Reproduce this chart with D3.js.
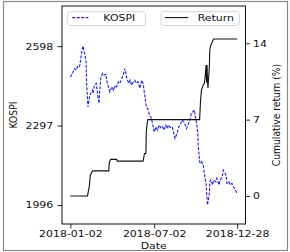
<!DOCTYPE html>
<html>
<head>
<meta charset="utf-8">
<script src="https://cdn.jsdelivr.net/npm/d3@7"></script>
<style>
  html, body { margin: 0; padding: 0; background: #fff; }
  svg { display: block; }
  text { font-family: "DejaVu Sans", sans-serif; fill: #111; }
</style>
</head>
<body>
<div id="chart"></div>
<script>
// KOSPI closing index, 2018
const kospiDates = ["01-02","01-08","01-11","01-15","01-18","01-22","01-24","01-26","01-29","02-02",
  "02-05","02-06","02-08","02-09","02-13","02-19","02-20","02-23","02-27","03-02",
  "03-05","03-06","03-09","03-13","03-16","03-20","03-22","03-26","03-28","04-02",
  "04-05","04-09","04-12","04-16","04-19","04-23","04-26","04-30","05-02","05-04",
  "05-08","05-11","05-14","05-18","05-21","05-25","05-28","06-01","06-05","06-08",
  "06-12","06-15","06-19","06-22","06-26","07-02","07-06","07-09","07-13","07-17",
  "07-20","07-23","07-27","07-30","08-02","08-06","08-10","08-13","08-16","08-20",
  "08-24","08-28","08-31","09-04","09-07","09-10","09-14","09-18","09-20","09-27",
  "09-28","10-01","10-04","10-05","10-08","10-10","10-12","10-16","10-18","10-22",
  "10-25","10-29","10-30","11-01","11-05","11-07","11-12","11-14","11-19","11-21",
  "11-26","11-28","12-04","12-06","12-10","12-13","12-17","12-20","12-24","12-28"];
const kospi = [2480,2501,2513,2507,2523,2520,2545,2570,2598,2570,
  2539,2463,2400,2368,2412,2431,2419,2450,2457,2412,
  2381,2419,2482,2495,2488,2491,2463,2438,2425,2444,
  2431,2450,2444,2463,2457,2476,2488,2513,2495,2476,
  2457,2469,2450,2463,2469,2457,2463,2438,2469,2457,
  2406,2368,2356,2337,2324,2273,2292,2280,2299,2286,
  2292,2280,2299,2286,2299,2289,2292,2267,2248,2267,
  2292,2305,2318,2311,2299,2286,2305,2324,2343,2356,
  2337,2311,2273,2223,2160,2154,2160,2147,2116,2072,
  1996,2040,2084,2091,2072,2091,2084,2097,2072,2091,
  2103,2128,2110,2078,2084,2072,2078,2065,2053,2038];

// cumulative return of the strategy, %
const retDates = ["01-02","02-08","02-12","02-14","02-19","03-26","03-27","03-30","04-12","04-13",
  "06-08","06-11","06-14","06-15","06-18","10-08","10-10","10-12","10-16","10-18",
  "10-19","10-22","10-23","10-24","10-25","10-26","10-29","10-30","11-01","11-05",
  "11-07","12-28"];
const ret = [0,0,0.9,1.9,2.3,2.3,3.05,3.36,3.36,3.2,
  3.2,3.9,3.9,6.0,7.0,7.0,8.8,9.7,10.2,10.3,
  10.5,12.0,10.4,12.0,10.5,9.9,11.9,13.4,13.8,14.2,
  14.4,14.4];

const xTickLabels = ["2018-01-02","2018-07-02","2018-12-28"];
const leftTicks = [1996, 2297, 2598];
const rightTicks = [0, 7, 14];

const parse = d3.timeParse("%Y-%m-%d");
const toDate = s => parse("2018-" + s);

var W = 290, H = 252;
var margin = { top: 6, right: 44.5, bottom: 28, left: 62 },
  width = W - margin.left - margin.right,
  height = H - margin.top - margin.bottom;
var SX = 1.19; // text in the picture is a bit wider than tall

var svg = d3.select("#chart").append("svg")
  .attr("width", W).attr("height", H);

// outer figure frame
svg.append("rect")
  .attr("x", 3.5).attr("y", 1.5).attr("width", 284).attr("height", 249)
  .attr("fill", "none").attr("stroke", "#8a8a8a").attr("stroke-width", 1.2);

var g = svg.append("g")
  .attr("transform", "translate(" + margin.left + "," + margin.top + ")");

// x scale: data span with 5% padding on each side
var d0 = toDate(kospiDates[0]), d1 = toDate(kospiDates[kospiDates.length - 1]);
var pad = (d1 - d0) * 0.05;
var x = d3.scaleTime()
  .domain([new Date(+d0 - pad), new Date(+d1 + pad)])
  .range([0, width]);

var y = d3.scaleLinear().domain([1924, 2750]).range([height, 0]);
var y2 = d3.scaleLinear().domain([-2.57, 17.42]).range([height, 0]);

// KOSPI line
var kData = kospiDates.map((d, i) => ({ date: toDate(d), v: kospi[i] }));
g.append("path")
  .datum(kData)
  .attr("fill", "none")
  .attr("stroke", "#1a1aff")
  .attr("stroke-width", 1.1)
  .attr("stroke-dasharray", "3,1.5")
  .attr("d", d3.line().x(d => x(d.date)).y(d => y(d.v)));

// return line
var rData = retDates.map((d, i) => ({ date: toDate(d), v: ret[i] }));
g.append("path")
  .datum(rData)
  .attr("fill", "none")
  .attr("stroke", "#111")
  .attr("stroke-width", 1.1)
  .attr("d", d3.line().x(d => x(d.date)).y(d => y2(d.v)));

// axes
var fs = 9.2;
var tickDates = xTickLabels.map(s => parse(s));
var xAxis = g.append("g")
  .attr("transform", "translate(0," + height + ")")
  .call(d3.axisBottom(x).tickValues(tickDates).tickFormat(d3.timeFormat("%Y-%m-%d"))
    .tickSize(4.5).tickPadding(2.2));
xAxis.selectAll("text")
  .style("font-size", fs + "px")
  .attr("transform", "scale(" + SX + ",1)");

var yAxis = g.append("g")
  .call(d3.axisLeft(y).tickValues(leftTicks).tickFormat(d3.format("d")).tickSize(4.5));
yAxis.selectAll("text")
  .style("font-size", fs + "px")
  .attr("x", -8.7 / SX)
  .attr("transform", "scale(" + SX + ",1)");

var y2Axis = g.append("g")
  .attr("transform", "translate(" + width + ",0)")
  .call(d3.axisRight(y2).tickValues(rightTicks).tickFormat(d3.format("d")).tickSize(4.5));
y2Axis.selectAll("text")
  .style("font-size", fs + "px")
  .attr("x", 7.5 / SX)
  .attr("transform", "scale(" + SX + ",1)");

[xAxis, yAxis, y2Axis].forEach(a => {
  a.select(".domain").remove();
  a.selectAll("line").attr("stroke", "#111").attr("stroke-width", 0.9);
});

// frame of the plot area
g.append("rect")
  .attr("width", width).attr("height", height)
  .attr("fill", "none").attr("stroke", "#111").attr("stroke-width", 1);

// axis titles
svg.append("text")
  .attr("transform", "translate(" + (margin.left + width / 2) + ",249) scale(" + SX + ",1)")
  .attr("text-anchor", "middle")
  .style("font-size", fs + "px")
  .text("Date");

svg.append("text")
  .attr("transform", "translate(17," + (margin.top + height / 2) + ") rotate(-90) scale(1," + SX + ")")
  .attr("text-anchor", "middle")
  .style("font-size", fs + "px")
  .text("KOSPI");

svg.append("text")
  .attr("transform", "translate(280," + (margin.top + height / 2) + ") rotate(-90) scale(1," + SX + ")")
  .attr("text-anchor", "middle")
  .style("font-size", fs + "px")
  .text("Cumulative return (%)");

// legends
function legend(x0, x1, label, dashed, lineStart, lineEnd, textX) {
  svg.append("rect")
    .attr("x", x0).attr("y", 11.7).attr("width", x1 - x0).attr("height", 13.8)
    .attr("rx", 2).attr("fill", "#fff").attr("fill-opacity", 0.85)
    .attr("stroke", "#cfcfcf").attr("stroke-width", 0.9);
  svg.append("line")
    .attr("x1", lineStart).attr("x2", lineEnd).attr("y1", 17.6).attr("y2", 17.6)
    .attr("stroke", dashed ? "#1a1aff" : "#111").attr("stroke-width", 1.1)
    .attr("stroke-dasharray", dashed ? "3,1.5" : null);
  svg.append("text")
    .attr("transform", "translate(" + textX + ",21) scale(" + SX + ",1)")
    .style("font-size", fs + "px")
    .text(label);
}
legend(67.7, 145.5, "KOSPI", true, 72.3, 88.3, 103.3);
legend(161, 239.3, "Return", false, 165, 188.3, 197.7);
</script>
</body>
</html>
